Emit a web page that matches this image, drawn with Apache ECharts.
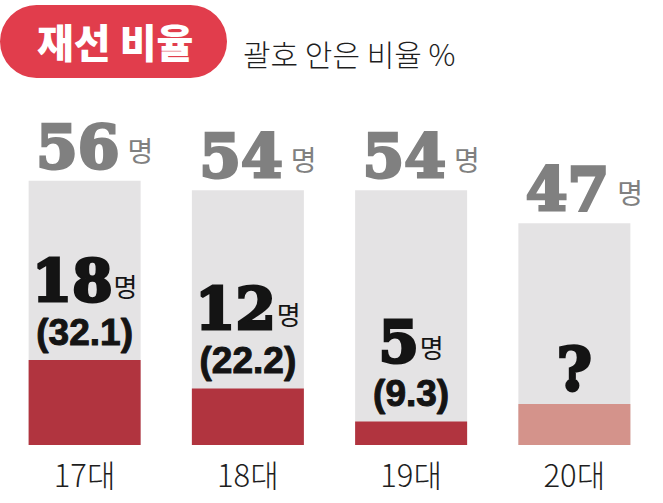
<!DOCTYPE html>
<html>
<head>
<meta charset="utf-8">
<script src="https://cdn.jsdelivr.net/npm/echarts@6/dist/echarts.min.js"></script>
<style>
  html, body { margin: 0; padding: 0; background: #ffffff; }
  #chart { width: 663px; height: 503px; }
</style>
</head>
<body>
<div id="chart"></div>
<script>
// ---- data ----
const categories = ['17대', '18대', '19대', '20대'];
const totals = [56, 54, 54, 47];          // 전체 인원 (명)
const reelected = [18, 12, 5, 8.7];       // 재선 인원 (20대는 미정, 막대 높이는 그림에서 추정)
const rates = ['32.1', '22.2', '9.3', null]; // 괄호 안 비율 %
const unknownLabel = '?';

const titleText = '재선 비율';
const subtitleText = '괄호 안은 비율 %';
const unitText = '명';

// ---- chart ----
const chart = echarts.init(document.getElementById('chart'), null, { renderer: 'svg' });

const digitFont = 'DejaVu Serif';
const krFont = '"Noto Sans CJK KR", "Noto Sans", sans-serif';

const option = {
  animation: false,
  backgroundColor: '#ffffff',
  grid: { left: 3, right: 7, top: 162, bottom: 58 },
  xAxis: {
    type: 'category',
    data: categories,
    axisLine: { show: false },
    axisTick: { show: false },
    axisLabel: {
      fontFamily: krFont,
      fontWeight: 300,
      fontSize: 31,
      color: '#1e1e1e',
      margin: 13
    }
  },
  yAxis: { type: 'value', min: 0, max: 60, show: false },
  graphic: [
    {
      type: 'rect',
      left: 0, top: 5,
      shape: { width: 227, height: 73, r: 36.5 },
      style: { fill: '#e13d4c' }
    },
    {
      type: 'text',
      left: 37, top: 21,
      style: {
        text: titleText,
        fill: '#ffffff',
        font: '900 40px ' + krFont
      }
    },
    {
      type: 'text',
      left: 243, top: 38,
      style: {
        text: subtitleText,
        fill: '#1e1e1e',
        font: '300 30px ' + krFont
      }
    }
  ],
  series: [
    {
      name: 'total',
      type: 'bar',
      data: totals,
      barWidth: 112,
      itemStyle: { color: '#e4e3e4' },
      label: {
        show: true,
        position: 'top',
        distance: 6,
        offset: [10, 0],
        formatter: p => `{n|${p.value}}{u|${unitText}}`,
        rich: {
          n: { fontFamily: digitFont, fontWeight: 'bold', fontSize: 60, color: '#808080', textBorderColor: '#808080', textBorderWidth: 3, lineHeight: 56, verticalAlign: 'middle' },
          u: { fontFamily: krFont, fontSize: 28, color: '#808080', padding: [6, 0, 0, 8], verticalAlign: 'middle' }
        }
      },
      z: 1
    },
    {
      name: 'reelected',
      type: 'bar',
      data: reelected.map((v, i) => ({
        value: v,
        itemStyle: { color: rates[i] === null ? '#d4938b' : '#b1343f' }
      })),
      barWidth: 112,
      barGap: '-100%',
      label: {
        show: true,
        position: 'top',
        distance: 5,
        formatter: p => {
          const i = p.dataIndex;
          if (rates[i] === null) return `{q|${unknownLabel}}`;
          return `{n|${reelected[i]}}{u|${unitText}}\n{r|(${rates[i]})}`;
        },
        rich: {
          n: { fontFamily: digitFont, fontWeight: 'bold', fontSize: 58, color: '#141414', textBorderColor: '#141414', textBorderWidth: 3, lineHeight: 56, verticalAlign: 'middle' },
          u: { fontFamily: krFont, fontSize: 26, color: '#141414', lineHeight: 56, padding: [8, 0, 0, 1], verticalAlign: 'middle' },
          r: { fontFamily: '"Liberation Sans", Arial, sans-serif', fontWeight: 'bold', fontSize: 37, color: '#141414', textBorderColor: '#141414', textBorderWidth: 1, lineHeight: 46, verticalAlign: 'middle' },
          q: { fontFamily: digitFont, fontWeight: 'bold', fontSize: 60, color: '#141414', textBorderColor: '#141414', textBorderWidth: 3, lineHeight: 60, verticalAlign: 'middle' }
        }
      },
      z: 2
    }
  ]
};

chart.setOption(option);
</script>
</body>
</html>
